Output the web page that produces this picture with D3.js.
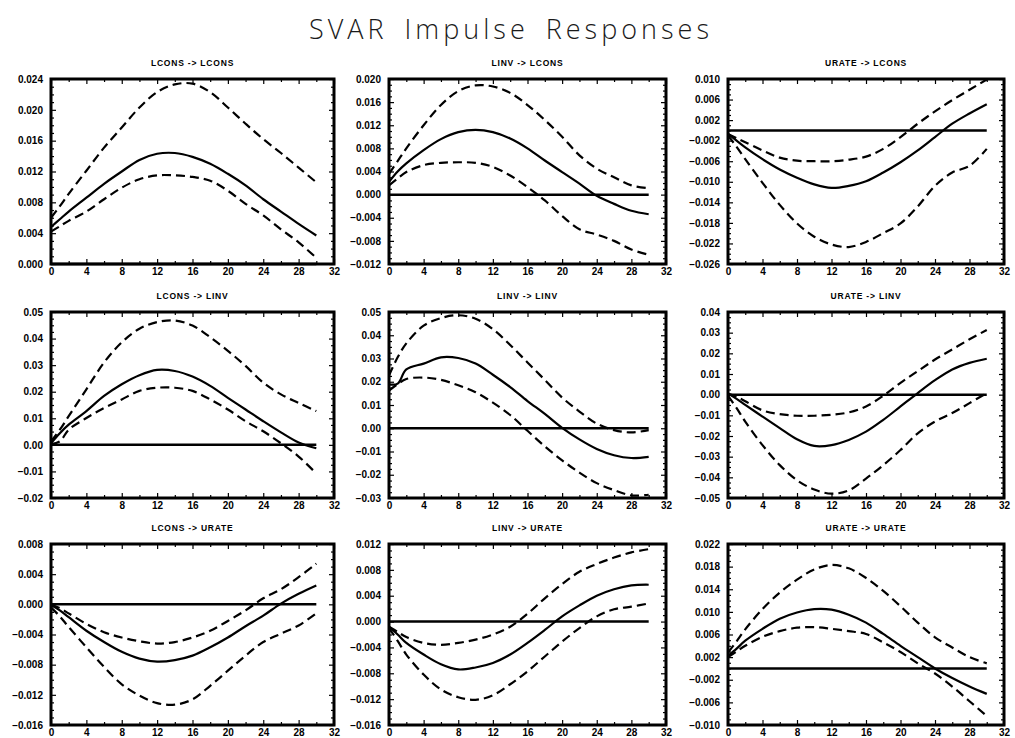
<!DOCTYPE html>
<html>
<head>
<meta charset="utf-8">
<script src="https://cdn.jsdelivr.net/npm/d3@7"></script>
<style>
  body { margin: 0; background: #fff; }
  svg { display: block; }
  .tick text { font-family: "Liberation Sans", Arial, sans-serif; font-weight: bold; font-size: 10px; fill: #000; }
  .domain { display: none; }
  .tick line { stroke: #000; stroke-width: 1.2; }
</style>
</head>
<body>
<div id="chart"></div>
<script>
// horizons (periods after the shock)
var horizons = [0, 1, 2, 4, 6, 8, 10, 12, 14, 16, 18, 20, 22, 24, 26, 28, 30];

var panelTitles = ["LCONS -> LCONS", "LINV -> LCONS", "URATE -> LCONS",
                   "LCONS -> LINV", "LINV -> LINV", "URATE -> LINV",
                   "LCONS -> URATE", "LINV -> URATE", "URATE -> URATE"];

var xTickLabels = ["0", "4", "8", "12", "16", "20", "24", "28", "32"];

// y tick labels per panel
var yTicks1 = ["0.000", "0.004", "0.008", "0.012", "0.016", "0.020", "0.024"];
var yTicks2 = ["-0.012", "-0.008", "-0.004", "0.000", "0.004", "0.008", "0.012", "0.016", "0.020"];
var yTicks3 = ["-0.026", "-0.022", "-0.018", "-0.014", "-0.010", "-0.006", "-0.002", "0.002", "0.006", "0.010"];
var yTicks4 = ["-0.02", "-0.01", "0.00", "0.01", "0.02", "0.03", "0.04", "0.05"];
var yTicks5 = ["-0.03", "-0.02", "-0.01", "0.00", "0.01", "0.02", "0.03", "0.04", "0.05"];
var yTicks6 = ["-0.05", "-0.04", "-0.03", "-0.02", "-0.01", "0.00", "0.01", "0.02", "0.03", "0.04"];
var yTicks7 = ["-0.016", "-0.012", "-0.008", "-0.004", "0.000", "0.004", "0.008"];
var yTicks8 = ["-0.016", "-0.012", "-0.008", "-0.004", "0.000", "0.004", "0.008", "0.012"];
var yTicks9 = ["-0.010", "-0.006", "-0.002", "0.002", "0.006", "0.010", "0.014", "0.018", "0.022"];

// LCONS -> LCONS
var lconsLconsMid = [0.0048, 0.0058, 0.0068, 0.0086, 0.0104, 0.0120, 0.0135, 0.0143, 0.0144, 0.0139, 0.0130, 0.0117, 0.0102, 0.0084, 0.0068, 0.0052, 0.0037];
var lconsLconsLo  = [0.0042, 0.0049, 0.0056, 0.0068, 0.0084, 0.0099, 0.0110, 0.0115, 0.0115, 0.0113, 0.0108, 0.0095, 0.0078, 0.0063, 0.0045, 0.0028, 0.0008];
var lconsLconsHi  = [0.0060, 0.0075, 0.0091, 0.0121, 0.0151, 0.0177, 0.0203, 0.0223, 0.0233, 0.0234, 0.0223, 0.0203, 0.0182, 0.0162, 0.0144, 0.0125, 0.0106];
// LINV -> LCONS
var linvLconsMid = [0.0022, 0.0040, 0.0054, 0.0077, 0.0096, 0.0108, 0.0112, 0.0108, 0.0097, 0.0080, 0.0059, 0.0039, 0.0019, -0.0002, -0.0016, -0.0028, -0.0034];
var linvLconsLo  = [0.0016, 0.0028, 0.0039, 0.0051, 0.0055, 0.0056, 0.0055, 0.0048, 0.0033, 0.0013, -0.0010, -0.0037, -0.0060, -0.0069, -0.0080, -0.0095, -0.0104];
var linvLconsHi  = [0.0036, 0.0058, 0.0080, 0.0120, 0.0155, 0.0179, 0.0189, 0.0187, 0.0176, 0.0155, 0.0129, 0.0100, 0.0068, 0.0045, 0.0030, 0.0016, 0.0011];
// URATE -> LCONS
var urateLconsMid = [-0.0007, -0.0020, -0.0033, -0.0056, -0.0076, -0.0092, -0.0105, -0.0112, -0.0108, -0.0099, -0.0082, -0.0062, -0.0039, -0.0013, 0.0013, 0.0033, 0.0051];
var urateLconsLo  = [-0.0010, -0.0032, -0.0056, -0.0102, -0.0145, -0.0181, -0.0207, -0.0222, -0.0227, -0.0217, -0.0200, -0.0181, -0.0148, -0.0108, -0.0082, -0.0069, -0.0036];
var urateLconsHi  = [-0.0007, -0.0015, -0.0023, -0.0039, -0.0053, -0.0059, -0.0060, -0.0060, -0.0057, -0.0051, -0.0036, -0.0013, 0.0013, 0.0037, 0.0059, 0.0079, 0.0099];
// LCONS -> LINV
var lconsLinvMid = [0.0006, 0.0044, 0.0076, 0.0127, 0.0184, 0.0228, 0.0262, 0.0282, 0.0278, 0.0257, 0.0222, 0.0177, 0.0133, 0.0089, 0.0047, 0.0009, -0.0013];
var lconsLinvLo  = [0.0003, 0.0013, 0.0057, 0.0101, 0.0139, 0.0171, 0.0203, 0.0215, 0.0215, 0.0203, 0.0171, 0.0133, 0.0089, 0.0051, 0.0006, -0.0044, -0.0108];
var lconsLinvHi  = [0.0013, 0.0057, 0.0108, 0.0209, 0.0310, 0.0386, 0.0437, 0.0462, 0.0468, 0.0449, 0.0405, 0.0354, 0.0297, 0.0234, 0.0190, 0.0158, 0.0127];
// LINV -> LINV
var linvLinvMid = [0.0189, 0.0192, 0.0253, 0.0278, 0.0305, 0.0302, 0.0278, 0.0230, 0.0177, 0.0117, 0.0062, 0.0002, -0.0048, -0.0089, -0.0116, -0.0128, -0.0123];
var linvLinvLo  = [0.0162, 0.0190, 0.0212, 0.0218, 0.0208, 0.0185, 0.0155, 0.0110, 0.0057, -0.0011, -0.0078, -0.0138, -0.0191, -0.0236, -0.0266, -0.0289, -0.0286];
var linvLinvHi  = [0.0227, 0.0305, 0.0365, 0.0441, 0.0474, 0.0486, 0.0471, 0.0426, 0.0358, 0.0283, 0.0208, 0.0132, 0.0072, 0.0020, -0.0008, -0.0018, -0.0008];
// URATE -> LINV
var urateLinvMid = [0.0005, -0.0020, -0.0049, -0.0106, -0.0162, -0.0216, -0.0248, -0.0244, -0.0219, -0.0179, -0.0122, -0.0057, 0.0008, 0.0070, 0.0122, 0.0154, 0.0174];
var urateLinvLo  = [-0.0005, -0.0065, -0.0130, -0.0244, -0.0341, -0.0414, -0.0459, -0.0479, -0.0463, -0.0406, -0.0341, -0.0268, -0.0187, -0.0130, -0.0089, -0.0041, 0.0008];
var urateLinvHi  = [0.0005, -0.0010, -0.0032, -0.0076, -0.0094, -0.0102, -0.0102, -0.0097, -0.0086, -0.0057, -0.0005, 0.0057, 0.0114, 0.0170, 0.0219, 0.0268, 0.0313];
// LCONS -> URATE
var lconsUrateMid = [-0.0001, -0.0008, -0.0017, -0.0035, -0.0050, -0.0063, -0.0072, -0.0076, -0.0074, -0.0068, -0.0057, -0.0044, -0.0029, -0.0015, 0.0001, 0.0014, 0.0025];
var lconsUrateLo  = [-0.0004, -0.0016, -0.0030, -0.0057, -0.0083, -0.0106, -0.0121, -0.0131, -0.0133, -0.0126, -0.0108, -0.0088, -0.0068, -0.0050, -0.0039, -0.0028, -0.0012];
var lconsUrateHi  = [-0.0001, -0.0005, -0.0012, -0.0026, -0.0037, -0.0044, -0.0049, -0.0052, -0.0050, -0.0044, -0.0035, -0.0022, -0.0008, 0.0008, 0.0020, 0.0036, 0.0054];
// LINV -> URATE
var linvUrateMid = [-0.0008, -0.0020, -0.0033, -0.0051, -0.0066, -0.0074, -0.0071, -0.0064, -0.0051, -0.0033, -0.0013, 0.0008, 0.0025, 0.0040, 0.0050, 0.0056, 0.0057];
var linvUrateLo  = [-0.0010, -0.0030, -0.0051, -0.0082, -0.0105, -0.0117, -0.0121, -0.0114, -0.0097, -0.0077, -0.0054, -0.0031, -0.0010, 0.0008, 0.0019, 0.0023, 0.0028];
var linvUrateHi  = [-0.0008, -0.0016, -0.0024, -0.0033, -0.0036, -0.0033, -0.0028, -0.0020, -0.0008, 0.0012, 0.0036, 0.0058, 0.0077, 0.0089, 0.0099, 0.0107, 0.0112];
// URATE -> URATE
var urateUrateMid = [0.0022, 0.0035, 0.0049, 0.0070, 0.0088, 0.0099, 0.0105, 0.0104, 0.0095, 0.0081, 0.0061, 0.0040, 0.0020, 0.0000, -0.0017, -0.0032, -0.0045];
var urateUrateLo  = [0.0020, 0.0030, 0.0040, 0.0056, 0.0066, 0.0072, 0.0073, 0.0070, 0.0066, 0.0061, 0.0046, 0.0029, 0.0009, -0.0009, -0.0032, -0.0058, -0.0084];
var urateUrateHi  = [0.0028, 0.0048, 0.0069, 0.0105, 0.0134, 0.0157, 0.0175, 0.0183, 0.0177, 0.0160, 0.0137, 0.0110, 0.0081, 0.0055, 0.0037, 0.0020, 0.0009];

var panels = [
  {title: panelTitles[0], ticks: yTicks1, mid: lconsLconsMid, lo: lconsLconsLo, hi: lconsLconsHi},
  {title: panelTitles[1], ticks: yTicks2, mid: linvLconsMid, lo: linvLconsLo, hi: linvLconsHi},
  {title: panelTitles[2], ticks: yTicks3, mid: urateLconsMid, lo: urateLconsLo, hi: urateLconsHi},
  {title: panelTitles[3], ticks: yTicks4, mid: lconsLinvMid, lo: lconsLinvLo, hi: lconsLinvHi},
  {title: panelTitles[4], ticks: yTicks5, mid: linvLinvMid, lo: linvLinvLo, hi: linvLinvHi},
  {title: panelTitles[5], ticks: yTicks6, mid: urateLinvMid, lo: urateLinvLo, hi: urateLinvHi},
  {title: panelTitles[6], ticks: yTicks7, mid: lconsUrateMid, lo: lconsUrateLo, hi: lconsUrateHi},
  {title: panelTitles[7], ticks: yTicks8, mid: linvUrateMid, lo: linvUrateLo, hi: linvUrateHi},
  {title: panelTitles[8], ticks: yTicks9, mid: urateUrateMid, lo: urateUrateLo, hi: urateUrateHi}
];

var width = 1015, height = 738;
var colX = [51, 389, 728], colW = [283, 277, 276];
var rowY = [79, 312, 544], rowH = [185, 186, 181];

var svg = d3.select("#chart").append("svg")
  .attr("width", width)
  .attr("height", height);

svg.append("text")
  .attr("x", 511)
  .attr("y", 39)
  .attr("text-anchor", "middle")
  .style("font-family", "'Open Sans', 'DejaVu Sans', sans-serif")
  .style("font-weight", 300)
  .style("font-size", "27px")
  .style("letter-spacing", "4px")
  .style("word-spacing", "6px")
  .style("fill", "#1a1a1a")
  .text("SVAR Impulse Responses");

function fmt(s) { return s.replace("-", "\u2212"); }

panels.forEach(function(p, i) {
  var c = i % 3, r = Math.floor(i / 3);
  var w = colW[c], h = rowH[r];
  var g = svg.append("g").attr("transform", "translate(" + colX[c] + "," + rowY[r] + ")");

  var yVals = p.ticks.map(Number);
  var x = d3.scaleLinear().domain([0, 32]).range([0, w]);
  var y = d3.scaleLinear().domain([yVals[0], yVals[yVals.length - 1]]).range([h, 0]);

  // minor ticks: x every 2, y every quarter step
  var xMinor = d3.range(0, 33, 2).filter(function(v) { return v % 4 != 0; });
  var step = yVals[1] - yVals[0];
  var yMinor = [];
  for (var k = 0; k < yVals.length - 1; k++) {
    for (var m = 1; m < 4; m++) yMinor.push(yVals[k] + step * m / 4);
  }

  // major ticks with labels
  g.append("g").attr("transform", "translate(0," + h + ")")
    .call(d3.axisBottom(x).tickValues(xTickLabels.map(Number)).tickSizeInner(-5).tickPadding(4)
      .tickFormat(function(d) { return String(d); }));
  g.append("g")
    .call(d3.axisLeft(y).tickValues(yVals).tickSizeInner(-5).tickPadding(8)
      .tickFormat(function(d, j) { return fmt(p.ticks[j]); }));
  g.append("g")
    .call(d3.axisTop(x).tickValues(xTickLabels.map(Number)).tickSizeInner(-5).tickFormat(""));
  g.append("g").attr("transform", "translate(" + w + ",0)")
    .call(d3.axisRight(y).tickValues(yVals).tickSizeInner(-5).tickFormat(""));

  // minor ticks
  g.append("g").attr("transform", "translate(0," + h + ")")
    .call(d3.axisBottom(x).tickValues(xMinor).tickSizeInner(-3).tickFormat(""));
  g.append("g")
    .call(d3.axisTop(x).tickValues(xMinor).tickSizeInner(-3).tickFormat(""));
  g.append("g")
    .call(d3.axisLeft(y).tickValues(yMinor).tickSizeInner(-3).tickFormat(""));
  g.append("g").attr("transform", "translate(" + w + ",0)")
    .call(d3.axisRight(y).tickValues(yMinor).tickSizeInner(-3).tickFormat(""));

  // zero line
  g.append("line")
    .attr("x1", x(0)).attr("x2", x(30))
    .attr("y1", y(0)).attr("y2", y(0))
    .attr("stroke", "#000").attr("stroke-width", 2.5);

  var line = d3.line()
    .x(function(d, j) { return x(horizons[j]); })
    .y(function(d) { return y(d); })
    .curve(d3.curveCatmullRom.alpha(0.5));

  [p.hi, p.lo].forEach(function(s) {
    g.append("path").attr("d", line(s))
      .attr("fill", "none").attr("stroke", "#000")
      .attr("stroke-width", 2.2).attr("stroke-dasharray", "9,5");
  });
  g.append("path").attr("d", line(p.mid))
    .attr("fill", "none").attr("stroke", "#000").attr("stroke-width", 2.2);

  // frame
  g.append("rect")
    .attr("width", w).attr("height", h)
    .attr("fill", "none").attr("stroke", "#000").attr("stroke-width", 3);

  // panel title
  g.append("text")
    .attr("x", w / 2).attr("y", -13)
    .attr("text-anchor", "middle")
    .style("font-family", "'Liberation Sans', Arial, sans-serif")
    .style("font-weight", "bold")
    .style("font-size", "8.5px")
    .style("letter-spacing", "0.8px")
    .text(p.title);
});
</script>
</body>
</html>
